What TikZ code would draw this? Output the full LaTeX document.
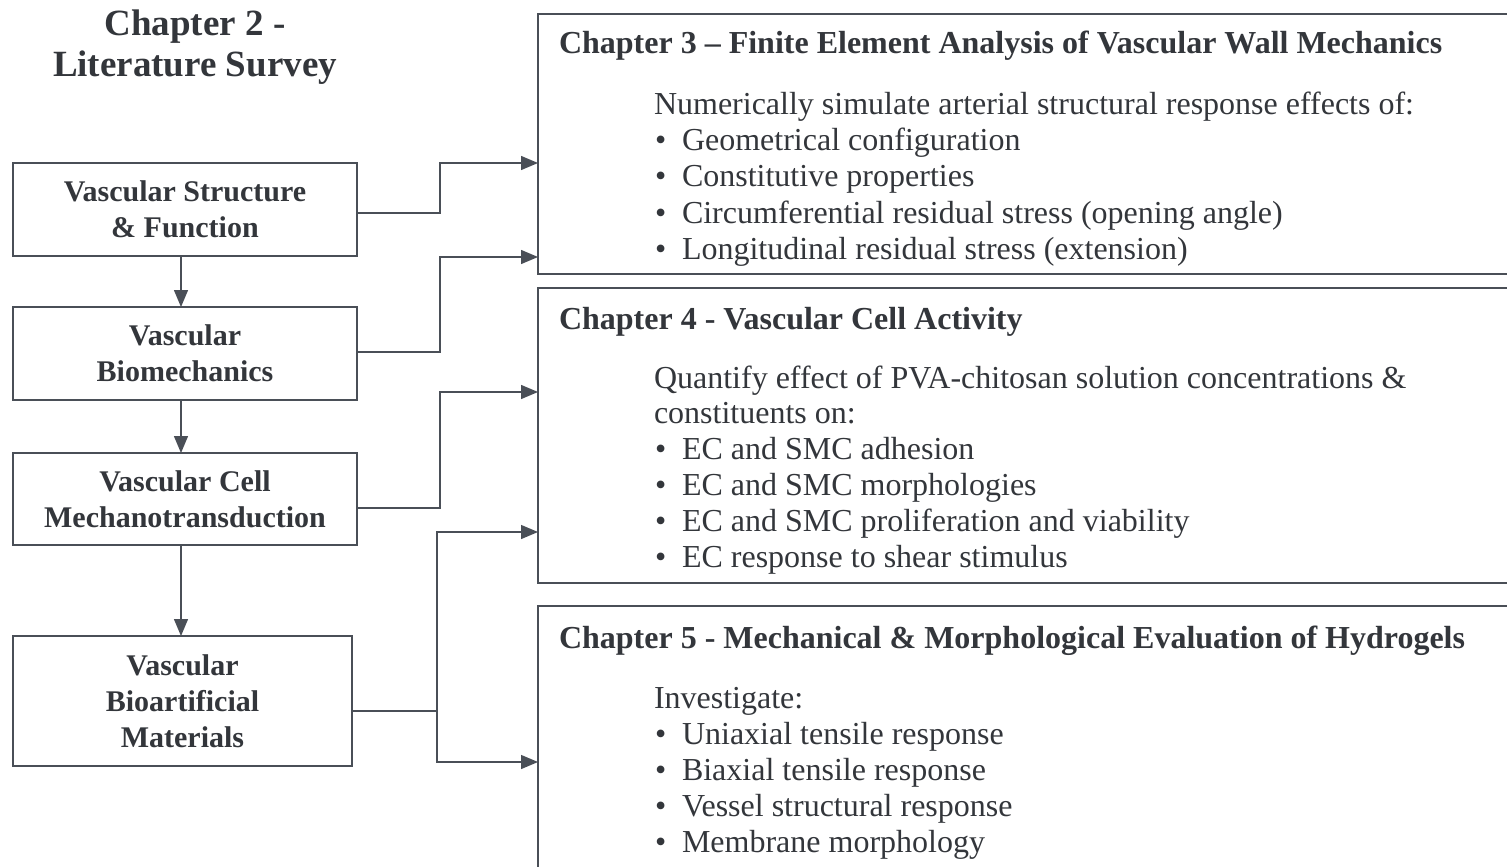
\documentclass[tikz,border=0pt]{standalone}
\usepackage{fontspec}
\setmainfont{Liberation Serif}
\usetikzlibrary{arrows.meta}
\definecolor{ln}{HTML}{4A4F57}
\definecolor{tx}{HTML}{33363B}
\begin{document}
\begin{tikzpicture}[x=1pt,y=-1pt,
  every node/.style={inner sep=0pt,outer sep=0pt,text=tx},
  lbox/.style={draw=ln,line width=2pt,align=center,font=\fontsize{30}{36}\selectfont\bfseries},
  rbox/.style={draw=ln,line width=2pt,anchor=north west},
  head/.style={anchor=base west,font=\fontsize{32}{36}\selectfont\bfseries},
  body/.style={anchor=base west,font=\fontsize{32}{36}\selectfont},
  conn/.style={draw=ln,line width=1.3pt},
  arr/.style={conn,-{Triangle[length=17pt,width=14pt]}}]
\useasboundingbox (0,0) rectangle (1507,867);
\clip (0,0) rectangle (1507,867);
\fill[white] (0,0) rectangle (1507,867);
% title
\node[align=center,font=\fontsize{37}{41}\selectfont\bfseries] (title) at (195,47) {Chapter 2 -\\Literature Survey};
% left boxes
\node[lbox,minimum width=344pt,minimum height=93pt] (a) at (185,209.5) {Vascular Structure\\\& Function};
\node[lbox,minimum width=344pt,minimum height=93pt] (b) at (185,353.5) {Vascular\\Biomechanics};
\node[lbox,minimum width=344pt,minimum height=92pt] (c) at (185,499) {Vascular Cell\\Mechanotransduction};
\node[lbox,minimum width=339pt,minimum height=130pt] (d) at (182.5,701) {Vascular\\Bioartificial\\Materials};
% right boxes
\node[rbox,minimum width=990pt,minimum height=260pt] (r1) at (538,14) {};
\node[rbox,minimum width=990pt,minimum height=295pt] (r2) at (538,288) {};
\node[rbox,minimum width=990pt,minimum height=280pt] (r3) at (538,606) {};
% down arrows
\draw[arr] (a.south -| 181,0) -- (b.north -| 181,0);
\draw[arr] (b.south -| 181,0) -- (c.north -| 181,0);
\draw[arr] (c.south -| 181,0) -- (d.north -| 181,0);
% connectors
\coordinate (ja) at (440,213);
\coordinate (jb) at (440,352);
\coordinate (jc) at (440,508);
\coordinate (jd) at (437,711);
\draw[arr] (a.east |- ja) -- (ja) |- (r1.west |- 0,163);
\draw[arr] (b.east |- jb) -- (jb) |- (r1.west |- 0,257);
\draw[arr] (c.east |- jc) -- (jc) |- (r2.west |- 0,392);
\draw[conn] (d.east |- jd) -- (jd);
\draw[arr] (jd) |- (r2.west |- 0,532);
\draw[arr] (jd) |- (r3.west |- 0,762);
% box 1 text
\node[head] (h1) at (559,54) {Chapter 3 – Finite Element Analysis of Vascular Wall Mechanics};
\node[body] (t1) at (654,114) {Numerically simulate arterial structural response effects of:};
\foreach \i/\y/\s in {1/150/Geometrical configuration,2/186/Constitutive properties,3/223/Circumferential residual stress (opening angle),4/259/Longitudinal residual stress (extension)}{
  \node[body] (p1b\i) at (655,\y) {•};
  \node[body] (p1t\i) at (682,\y) {\s};
}
% box 2 text
\node[head] (h2) at (559,329) {Chapter 4 - Vascular Cell Activity};
\node[body] (t2) at (654,388) {Quantify effect of PVA-chitosan solution concentrations \&};
\node[body] (t2b) at (654,423) {constituents on:};
\foreach \i/\y/\s in {1/459/EC and SMC adhesion,2/495/EC and SMC morphologies,3/531/EC and SMC proliferation and viability,4/567/EC response to shear stimulus}{
  \node[body] (p2b\i) at (655,\y) {•};
  \node[body] (p2t\i) at (682,\y) {\s};
}
% box 3 text
\node[head] (h3) at (559,648) {Chapter 5 - Mechanical \& Morphological Evaluation of Hydrogels};
\node[body] (t3) at (654,708) {Investigate:};
\foreach \i/\y/\s in {1/744/Uniaxial tensile response,2/780/Biaxial tensile response,3/816/Vessel structural response,4/852/Membrane morphology}{
  \node[body] (p3b\i) at (655,\y) {•};
  \node[body] (p3t\i) at (682,\y) {\s};
}
\end{tikzpicture}
\end{document}
